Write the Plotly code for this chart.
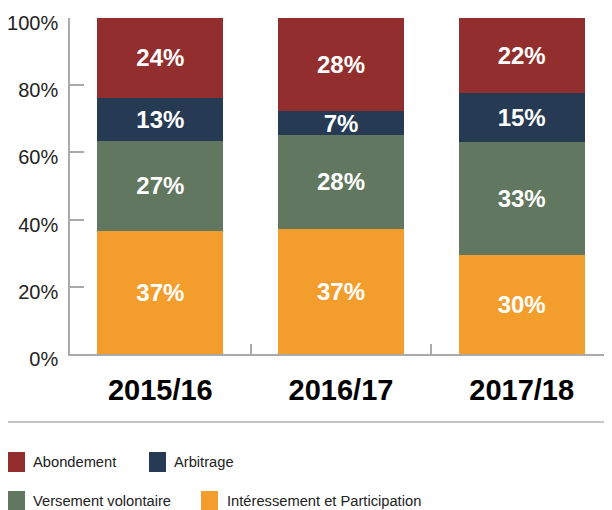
import plotly.graph_objects as go

# ---- data ----
years = ["2015/16", "2016/17", "2017/18"]
series_names = ["Intéressement et Participation", "Versement volontaire", "Arbitrage", "Abondement"]
interessement = [36.6, 37.2, 29.6]
versement = [26.9, 28.0, 33.4]
arbitrage = [12.7, 7.1, 14.7]
abondement = [23.8, 27.7, 22.3]
label_interessement = [37, 37, 30]
label_versement = [27, 28, 33]
label_arbitrage = [13, 7, 15]
label_abondement = [24, 28, 22]
y_ticks = [0, 20, 40, 60, 80, 100]
y_tick_text = ["0%", "20%", "40%", "60%", "80%", "100%"]

colors = {
    "Intéressement et Participation": "#f39d2d",
    "Versement volontaire": "#61775f",
    "Arbitrage": "#263a53",
    "Abondement": "#922f2e",
}

values = [interessement, versement, arbitrage, abondement]
labels = [label_interessement, label_versement, label_arbitrage, label_abondement]

# ---- layout geometry (page coords; the page body has an 8px margin) ----
OFF = 8
PAGE_W, PAGE_H = 612, 510
W, H = PAGE_W - OFF, PAGE_H - OFF
L, R, T = 70 - OFF, 0, 18 - OFF
B = H - (354 - OFF)
pw, ph = W - L - R, H - T - B


def fx(x):
    return (x - OFF - L) / pw


def fy(y):
    return (H - B - (y - OFF)) / ph


FONT = "Helvetica, Arial, Liberation Sans, sans-serif"

fig = go.Figure()
for name, vals, labs in zip(series_names, values, labels):
    fig.add_trace(go.Bar(
        x=years, y=vals, name=name,
        marker=dict(color=colors[name], line=dict(width=0)),
        text=[f"{v}%" for v in labs],
        textposition="inside", insidetextanchor="middle",
        textangle=0, constraintext="none",
        textfont=dict(family=FONT, size=24, color="white", weight="bold"),
        showlegend=False, hoverinfo="skip",
    ))

shapes = []
annotations = []
# separator line
shapes.append(dict(type="line", xref="paper", yref="paper",
                   x0=fx(8), x1=fx(612), y0=fy(422), y1=fy(422),
                   line=dict(color="#b0b0b0", width=1.5)))

legend_layout = [
    ("Abondement", 8, 452, 472, 31),
    ("Arbitrage", 149, 452, 472, 172),
    ("Versement volontaire", 8, 491, 511, 31),
    ("Intéressement et Participation", 201, 491, 511, 225),
]
for name, sx, y0, y1, tx in legend_layout:
    shapes.append(dict(type="rect", xref="paper", yref="paper",
                       x0=fx(sx), x1=fx(sx + 17), y0=fy(y1), y1=fy(y0),
                       fillcolor=colors[name], line=dict(width=0)))
    annotations.append(dict(xref="paper", yref="paper", x=fx(tx), y=fy((y0 + y1) / 2),
                            text=name, showarrow=False, xanchor="left", yanchor="middle",
                            font=dict(family=FONT, size=14.7, color="#222")))

fig.update_layout(
    width=W, height=H,
    margin=dict(l=L, r=R, t=T, b=B, pad=0, autoexpand=False),
    barmode="stack", bargap=0.304,
    plot_bgcolor="white", paper_bgcolor="white",
    font=dict(family=FONT, color="#222"),
    shapes=shapes, annotations=annotations,
    xaxis=dict(
        range=[-0.5, 2.5], showline=True, linecolor="#aaaaaa", linewidth=1.5,
        ticks="inside", tickson="boundaries", ticklen=10, tickcolor="#aaaaaa", tickwidth=1.5,
        tickfont=dict(family=FONT, size=29, color="black", weight="bold"),
        showgrid=False, zeroline=False, ticklabelstandoff=9, automargin=False,
    ),
    yaxis=dict(
        range=[0, 100], tickvals=y_ticks, ticktext=y_tick_text,
        showline=True, linecolor="#aaaaaa", linewidth=1.5,
        ticks="inside", ticklen=14, tickcolor="#aaaaaa", tickwidth=1.5,
        tickfont=dict(family=FONT, size=20, color="#222"),
        showgrid=False, zeroline=False, ticklabelstandoff=6, ticklabelshift=5,
        ticklabeloverflow="allow", automargin=False,
    ),
)

fig.write_html("out.html")
